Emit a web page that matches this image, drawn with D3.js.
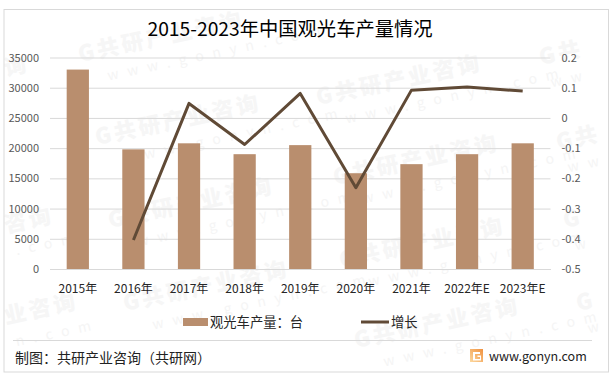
<!DOCTYPE html>
<html>
<head>
<meta charset="utf-8">
<script src="https://cdn.jsdelivr.net/npm/d3@7/dist/d3.min.js"></script>
<style>
html, body { margin: 0; padding: 0; background: #fff; }
svg { display: block; }
text { font-family: "Noto Sans CJK SC", "Noto Sans", sans-serif; }
</style>
</head>
<body>
<div id="chart"></div>
<script>
var years = ["2015年", "2016年", "2017年", "2018年", "2019年", "2020年", "2021年", "2022年E", "2023年E"]
var output = [33000, 19800, 20800, 19000, 20500, 15850, 17350, 19000, 20800]
var growth = [null, -0.404, 0.048, -0.088, 0.081, -0.231, 0.092, 0.102, 0.089]
var leftTicks = [0, 5000, 10000, 15000, 20000, 25000, 30000, 35000]
var rightTicks = [-0.5, -0.4, -0.3, -0.2, -0.1, 0, 0.1, 0.2]

var barName = "观光车产量：台"
var lineName = "增长"

var width = 615, height = 379
var margin = { top: 57.5, right: 64.5, bottom: 110, left: 50 }

var svg = d3.select("#chart")
    .append("svg")
    .attr("width", width)
    .attr("height", height)

// watermark repeats, the ones at the page edge only show part of the name
var marks = [
    [6, 76, "询", ""], [6, 233, "咨询", ".com"], [6, 324, "业咨询", "n.com"],
    [80, 62, "G共研产业咨询", "www.gonyn.com"], [97, 145, "G共研产业咨询", "www.gonyn.com"],
    [110, 228, "G共研产业咨询", "www.gonyn.com"], [125, 311, "G共研产业咨询", "www.gonyn.com"],
    [318, 105, "G共研产业咨询", "www.gonyn.com"], [335, 185, "G共研产业咨询", "www.gonyn.com"],
    [341, 268, "G共研产业咨询", "www.gonyn.com"], [356, 348, "G共研产业咨询", "www.gonyn.com"],
    [541, 65, "G共", "ww"], [558, 150, "G共", "ww"], [565, 228, "G", "w"], [578, 311, "G", "w"]
]
var wm = svg.append("g").attr("class", "watermark")
marks.forEach(function (m) {
    var g = wm.append("g").attr("transform", "translate(" + m[0] + "," + m[1] + ") rotate(-12)")
    g.append("text")
        .style("font-size", "22px").style("font-weight", 900).style("letter-spacing", "3px")
        .attr("fill", "#f6f6f6")
        .text(m[2])
    g.append("text")
        .attr("x", m[2].length > 3 ? 24 : 6).attr("y", 24)
        .style("font-size", "14px").style("letter-spacing", "9px")
        .attr("fill", "#f5f5f5")
        .text(m[3])
})

// outer frame
svg.append("rect")
    .attr("x", 4).attr("y", 9.5)
    .attr("width", 604.5).attr("height", 362.5)
    .attr("fill", "none")
    .attr("stroke", "#d9d9d9")
    .attr("stroke-width", 1)

svg.append("text")
    .attr("x", 290).attr("y", 36)
    .attr("text-anchor", "middle")
    .style("font-size", "19.3px")
    .attr("fill", "#000")
    .text("2015-2023年中国观光车产量情况")

var x = d3.scaleBand()
    .domain(years)
    .range([margin.left, width - margin.right])
    .paddingInner(0.6)
    .paddingOuter(0.3)

var y = d3.scaleLinear()
    .domain([0, 35000])
    .range([height - margin.bottom, margin.top])

var y2 = d3.scaleLinear()
    .domain([-0.5, 0.2])
    .range([height - margin.bottom, margin.top])

// left axis also draws the grid
var yAxis = svg.append("g")
    .attr("transform", "translate(" + margin.left + ",0)")
    .call(d3.axisLeft(y).tickValues(leftTicks).tickSize(-(width - margin.left - margin.right)).tickPadding(11).tickFormat(d3.format("d")))
yAxis.select(".domain").remove()
yAxis.selectAll("line").attr("stroke", "#d9d9d9")
yAxis.selectAll("text").attr("fill", "#595959").style("font-size", "11px")

var y2Axis = svg.append("g")
    .attr("transform", "translate(" + (width - margin.right) + ",0)")
    .call(d3.axisRight(y2).tickValues(rightTicks).tickSize(0).tickPadding(11).tickFormat(function (d) { return String(+d.toFixed(1)) }))
y2Axis.select(".domain").remove()
y2Axis.selectAll("text").attr("fill", "#595959").style("font-size", "11px")

var xAxis = svg.append("g")
    .attr("transform", "translate(0," + (height - margin.bottom) + ")")
    .call(d3.axisBottom(x).tickSize(0).tickPadding(15))
xAxis.select(".domain").attr("stroke", "#d9d9d9")
xAxis.selectAll("text").attr("fill", "#262626").style("font-size", "12px")

svg.selectAll("rect.bar")
    .data(output)
    .enter()
    .append("rect")
    .attr("class", "bar")
    .attr("x", function (d, i) { return x(years[i]) })
    .attr("y", function (d) { return y(d) })
    .attr("width", x.bandwidth())
    .attr("height", function (d) { return y(0) - y(d) })
    .attr("fill", "#b98e6e")

var line = d3.line()
    .defined(function (d) { return d !== null })
    .x(function (d, i) { return x(years[i]) + x.bandwidth() / 2 })
    .y(function (d) { return y2(d) })

svg.append("path")
    .datum(growth)
    .attr("d", line)
    .attr("fill", "none")
    .attr("stroke", "#604a36")
    .attr("stroke-width", 3)
    .attr("stroke-linejoin", "round")

// legend
svg.append("rect")
    .attr("x", 183).attr("y", 318)
    .attr("width", 25).attr("height", 8)
    .attr("fill", "#b98e6e")
svg.append("text")
    .attr("x", 210).attr("y", 327)
    .style("font-size", "13.3px").attr("fill", "#262626")
    .text(barName)
svg.append("line")
    .attr("x1", 361).attr("x2", 389)
    .attr("y1", 322).attr("y2", 322)
    .attr("stroke", "#604a36").attr("stroke-width", 3)
svg.append("text")
    .attr("x", 391).attr("y", 327)
    .style("font-size", "13.3px").attr("fill", "#262626")
    .text(lineName)

// footer
svg.append("line")
    .attr("x1", 13).attr("x2", 592)
    .attr("y1", 340.5).attr("y2", 340.5)
    .attr("stroke", "#d9d9d9")
svg.append("text")
    .attr("x", 15).attr("y", 363)
    .style("font-size", "14px").attr("fill", "#222")
    .text("制图：共研产业咨询（共研网）")

var defs = svg.append("defs")
var grad = defs.append("linearGradient").attr("id", "logoGrad").attr("x1", 0).attr("x2", 1).attr("y1", 1).attr("y2", 0)
grad.append("stop").attr("offset", 0).attr("stop-color", "#fcd9a0")
grad.append("stop").attr("offset", 1).attr("stop-color", "#f0913f")
svg.append("rect")
    .attr("x", 470).attr("y", 349)
    .attr("width", 13).attr("height", 13)
    .attr("fill", "url(#logoGrad)")
svg.append("path")
    .attr("d", "M473,352H480V354H475V359H480V357H477.5V355.5H481V360.5H473Z")
    .attr("fill", "#fff")
svg.append("text")
    .attr("x", 489).attr("y", 361)
    .style("font-size", "12.5px").attr("fill", "#222")
    .text("www.gonyn.com")
</script>
</body>
</html>
